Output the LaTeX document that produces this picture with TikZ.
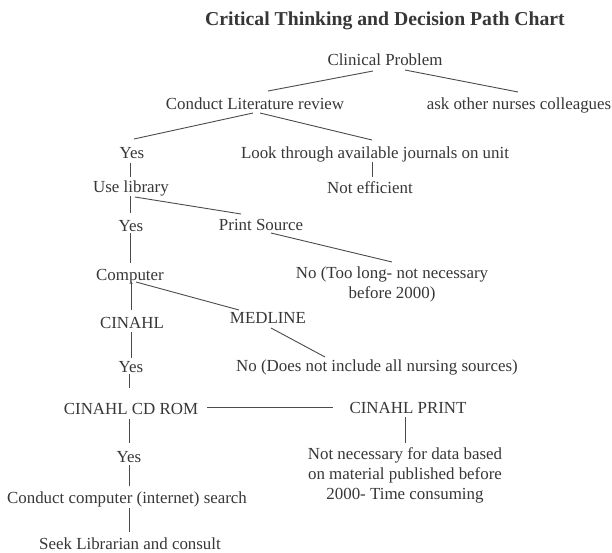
\documentclass[tikz,border=0pt]{standalone}
\usepackage{fontspec}
\setmainfont{Liberation Serif}
\usetikzlibrary{calc}
\definecolor{ink}{RGB}{55,55,55}
\definecolor{linec}{RGB}{75,75,75}
\tikzset{
  lbl/.style={inner sep=0pt, text=ink, font=\fontsize{16.9}{20}\selectfont, text height=13pt, text depth=0pt, anchor=center},
  mlbl/.style={inner sep=0pt, text=ink, font=\fontsize{16.9}{20}\selectfont, align=center, anchor=center},
  ttl/.style={inner sep=0pt, text=ink, font=\fontsize{19.7}{24}\selectfont\bfseries, text height=15pt, text depth=0pt, anchor=center},
  conn/.style={draw=linec, line width=0.9pt}
}
\begin{document}
\begin{tikzpicture}[x=1pt,y=-1pt]
\useasboundingbox[fill=white] (0,0) rectangle (612,553);
\node[ttl] (title) at (385,18) {Critical Thinking and Decision Path Chart};
\node[lbl] (cp) at (385,59) {Clinical Problem};
\node[lbl] (clr) at (255,103) {Conduct Literature review};
\node[lbl] (ask) at (519,103) {ask other nurses colleagues};
\node[lbl] (yes1) at (132,152) {Yes};
\node[lbl] (look) at (375,152) {Look through available journals on unit};
\node[lbl] (ne) at (370,187) {Not efficient};
\node[lbl] (ul) at (131,186) {Use library};
\node[lbl] (yes2) at (131,225) {Yes};
\node[lbl] (ps) at (261,224) {Print Source};
\node[lbl] (comp) at (130,274) {Computer};
\node[mlbl] (no1) at (392,284) {No (Too long- not necessary\\before 2000)};
\node[lbl] (cinahl) at (132,322) {CINAHL};
\node[lbl] (med) at (268,317) {MEDLINE};
\node[lbl] (yes3) at (131,366) {Yes};
\node[lbl] (no2) at (377,365) {No (Does not include all nursing sources)};
\node[lbl] (cd) at (131,408) {CINAHL CD ROM};
\node[lbl] (print) at (408,407) {CINAHL PRINT};
\node[mlbl] (nn) at (405,475) {Not necessary for data based\\on material published before\\2000- Time consuming};
\node[lbl] (yes4) at (129,456) {Yes};
\node[lbl] (ccs) at (127,497) {Conduct computer (internet) search};
\node[lbl] (seek) at (130,543) {Seek Librarian and consult};

\draw[conn] ($(cp)+(-12,12)$) -- ($(clr)+(13,-12)$);
\draw[conn] ($(cp)+(20,11)$) -- ($(ask)+(-1,-11)$);
\draw[conn] ($(clr)+(-2,10)$) -- ($(yes1)+(2,-13)$);
\draw[conn] ($(clr)+(5,10)$) -- ($(look)+(-3,-12)$);
\draw[conn] ($(look)+(-3,10)$) -- ($(ne)+(2,-10)$);
\draw[conn] ($(yes1)+(-2,11)$) -- ($(ul)+(-1,-9)$);
\draw[conn] ($(ul)+(-1,10)$) -- ($(yes2)+(-1,-12)$);
\draw[conn] ($(ul)+(4,11)$) -- ($(ps)+(-20,-10)$);
\draw[conn] ($(yes2)+(-1,8)$) -- ($(comp)+(0,-11)$);
\draw[conn] ($(ps)+(10,9)$) -- ($(no1)+(0,-22)$);
\draw[conn] ($(comp)+(1,8)$) -- ($(cinahl)+(-1,-12)$);
\draw[conn] ($(comp)+(6,8)$) -- ($(med)+(-29,-7)$);
\draw[conn] ($(med)+(3,11)$) -- ($(no2)+(-52,-8)$);
\draw[conn] ($(cinahl)+(-1,10)$) -- ($(yes3)+(0,-8)$);
\draw[conn] ($(yes3)+(-2,8)$) -- ($(cd)+(-2,-20)$);
\draw[conn] ($(cd)+(76,-1)$) -- ($(print)+(-75,0)$);
\draw[conn] ($(print)+(-3,10)$) -- ($(nn)+(0,-32)$);
\draw[conn] ($(cd)+(-2,11)$) -- ($(yes4)+(0,-13)$);
\draw[conn] ($(yes4)+(0,9)$) -- ($(ccs)+(2,-11)$);
\draw[conn] ($(ccs)+(2,11)$) -- ($(seek)+(-1,-11)$);
\end{tikzpicture}
\end{document}
